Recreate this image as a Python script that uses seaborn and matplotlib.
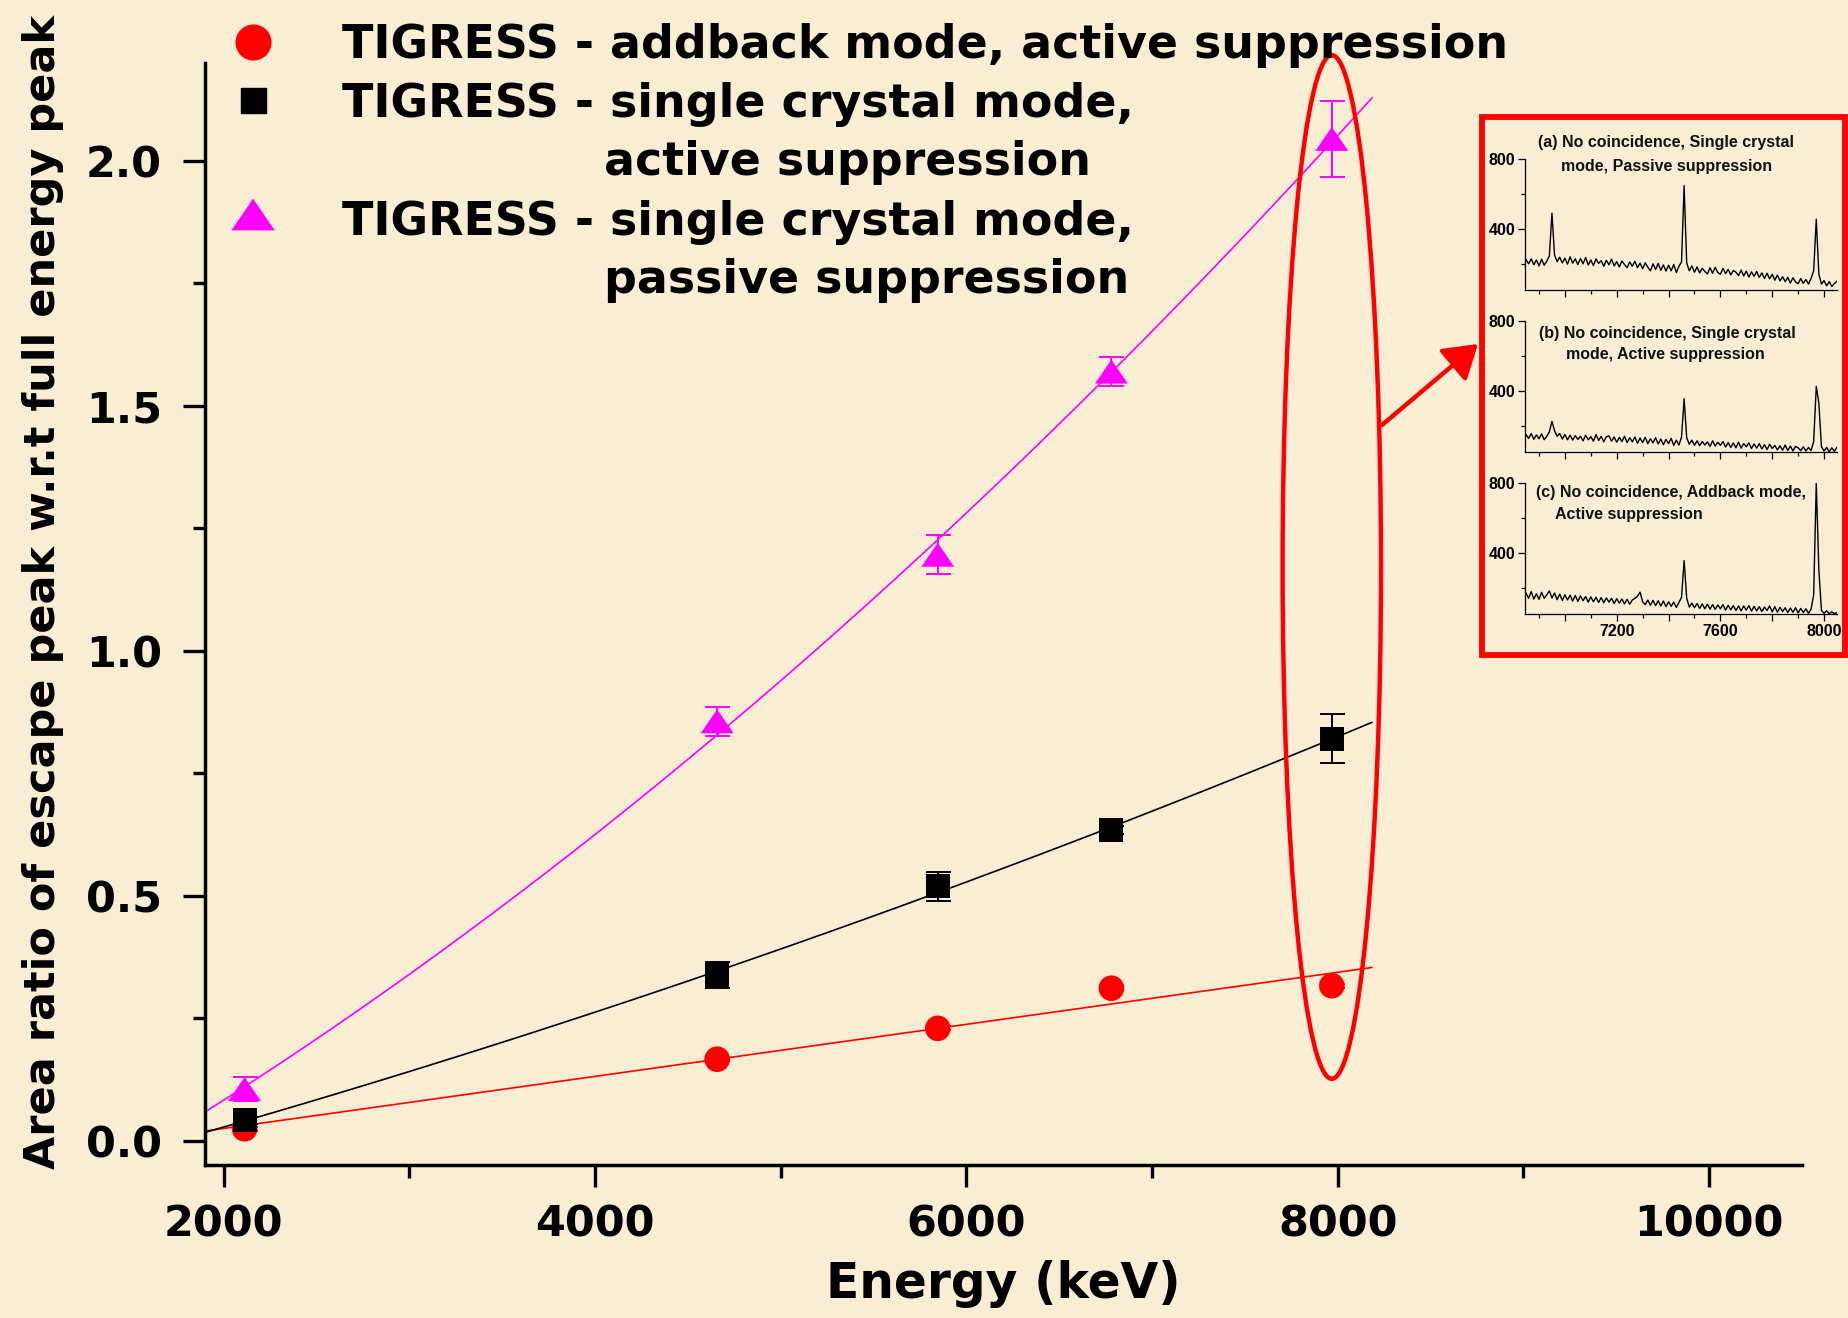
import numpy as np
import pandas as pd
import matplotlib
matplotlib.use("Agg")
import matplotlib.pyplot as plt
import seaborn as sns
from matplotlib.patches import Ellipse, Rectangle
from matplotlib.lines import Line2D
from matplotlib.ticker import FormatStrFormatter

# ---------------- data ----------------
energy_kev = [2113, 4658, 5846, 6781, 7968]

ratio_addback_active = [0.024, 0.166, 0.229, 0.311, 0.316]
err_addback_active = [0.004, 0.004, 0.004, 0.004, 0.004]

ratio_single_active = [0.041, 0.338, 0.519, 0.634, 0.820]
err_single_active = [0.008, 0.027, 0.030, 0.008, 0.050]

ratio_single_passive = [0.105, 0.856, 1.196, 1.570, 2.045]
err_single_passive = [0.025, 0.030, 0.040, 0.030, 0.078]

legend_lines = [
    ("TIGRESS - addback mode, active suppression", None),
    ("TIGRESS - single crystal mode,", "active suppression"),
    ("TIGRESS - single crystal mode,", "passive suppression"),
]

fit_range_kev = (1900, 8185)
x_limits = (1900, 10500)
y_limits = (-0.05, 2.2)

# inset spectra (counts per 10 keV channel, 6850..8050 keV)
spec_energy = np.arange(6850, 8051, 10)
spec_a = [225, 200, 228, 195, 222, 188, 226, 192, 215, 245,
          490,
          250, 212, 238, 205, 232, 198, 240, 204, 228,
          196, 230, 200, 236, 194, 222, 190, 228, 202, 218,
          186, 220, 194, 226, 188, 212, 182, 216, 196, 178,
          210, 186, 214, 178, 204, 172, 206, 180, 160, 200,
          168, 202, 162, 194, 158, 192, 160, 196, 150, 186,
          210, 647, 205,
          160, 188, 152, 182, 148, 174, 156, 142, 178, 146,
          180, 150, 140, 174, 144, 168, 136, 162, 152, 132,
          164, 130, 158, 124, 154, 128, 156, 122, 148, 116,
          146, 114, 140, 106, 136, 102, 126, 98, 122, 90,
          120, 96, 86, 116, 88, 110, 84, 116,
          160, 455, 140,
          84, 104, 74, 98, 70, 88, 100]
spec_b = [150, 128, 156, 122, 148, 126, 154, 120, 140, 165,
          226,
          172, 140, 156, 124, 150, 120, 146, 118, 144,
          122, 140, 114, 146, 120, 138, 112, 150, 116, 140,
          108, 138, 142, 112, 136, 106, 134, 110, 140, 104,
          132, 108, 136, 100, 130, 104, 134, 98, 126, 102,
          132, 96, 124, 92, 122, 98, 128, 88, 118, 90,
          135, 355, 132,
          94, 118, 88, 114, 86, 110, 90, 108, 82, 114,
          84, 106, 88, 110, 78, 104, 76, 102, 74, 106,
          72, 98, 80, 102, 70, 96, 72, 98, 68, 92,
          64, 94, 70, 88, 62, 86, 60, 90, 58, 84,
          56, 82, 74, 58, 80, 56, 76, 58,
          110, 425, 330,
          80, 56, 76, 52, 74, 54, 78]
spec_c = [170, 140, 178, 136, 166, 134, 174, 140, 160, 182,
          142, 170, 132, 164, 128, 160, 130, 158, 124, 156,
          122, 154, 126, 150, 118, 148, 120, 146, 116, 144,
          114, 142, 118, 140, 110, 138, 112, 136, 108, 134,
          106, 130, 140, 152, 175, 120, 104, 130, 100, 128,
          98, 126, 96, 124, 92, 120, 94, 118, 88, 116,
          145, 356, 140,
          90, 112, 86, 110, 82, 108, 80, 106, 78, 104,
          76, 102, 80, 104, 72, 100, 74, 98, 70, 96,
          68, 96, 72, 98, 66, 94, 68, 92, 64, 90,
          70, 96, 62, 92, 60, 88, 64, 86, 58, 84,
          60, 86, 56, 82, 58, 80, 54, 78,
          160, 800, 300,
          70, 54, 68, 52, 62, 52, 58]
inset_titles = [
    ["(a) No coincidence, Single crystal", "mode, Passive suppression"],
    ["(b) No coincidence, Single crystal", "mode, Active suppression"],
    ["(c) No coincidence, Addback mode,", "Active suppression"],
]

# ---------------- style ----------------
sns.set_theme(style="ticks")
plt.rcParams['font.family'] = ['DejaVu Sans']
plt.rcParams['font.weight'] = 'bold'
BG = '#F9EDD3'
W, H = 1849, 1318


def fx(px):
    return px / W


def fy(py):
    return 1 - py / H


fig = plt.figure(figsize=(W / 100, H / 100), dpi=100, facecolor=BG)
ax = fig.add_axes([fx(205), fy(1165), fx(1802) - fx(205), fy(63) - fy(1165)])
ax.set_facecolor(BG)

tri = [(0, 0.73), (-1, -0.73), (1, -0.73)]

series = [
    (ratio_addback_active, err_addback_active, '#FF0000', 'o', 340, 1),
    (ratio_single_active, err_single_active, '#000000', 's', 300, 2),
    (ratio_single_passive, err_single_passive, '#FF00FF', tri, 560, 2),
]

# fit lines over the drawn range
ax.set_xlim(*fit_range_kev)
ax.set_ylim(*y_limits)
for vals, err, col, mk, s, order in series:
    sns.regplot(x=np.array(energy_kev, float), y=np.array(vals), order=order, ci=None,
                scatter=False, truncate=False, color=col,
                line_kws=dict(color=col, lw=1.2, zorder=2), ax=ax)
ax.set_xlim(*x_limits)
ax.set_ylim(*y_limits)

for vals, err, col, mk, s, order in series:
    ax.errorbar(energy_kev, vals, yerr=err, fmt='none', ecolor=col, elinewidth=1.4,
                capsize=9, capthick=1.4, zorder=3)
    sns.scatterplot(x=energy_kev, y=vals, marker=mk, s=s, color=col, edgecolor='none',
                    linewidth=0, ax=ax, zorder=4, legend=False)

ax.set_xlabel('')
ax.set_ylabel('')

# ellipse highlighting ~8 MeV points
ell = Ellipse((7968, 1.171), width=530, height=2.09, fill=False, ec='#FF0000', lw=3.2,
              clip_on=False, zorder=5)
ax.add_patch(ell)

# axes styling
sns.despine(ax=ax)
for sp in ('left', 'bottom'):
    ax.spines[sp].set_linewidth(2.5)
    ax.spines[sp].set_color('black')
ax.set_xticks([2000, 4000, 6000, 8000, 10000])
ax.set_xticks([3000, 5000, 7000, 9000], minor=True)
ax.set_yticks([0.0, 0.5, 1.0, 1.5, 2.0])
ax.set_yticks([0.25, 0.75, 1.25, 1.75], minor=True)
ax.yaxis.set_major_formatter(FormatStrFormatter('%.1f'))
ax.tick_params(which='major', direction='out', length=16, width=2.4, color='black',
               labelsize=31, labelcolor='black')
ax.tick_params(which='minor', direction='out', length=9, width=2.4, color='black')
ax.tick_params(axis='x', which='major', pad=12)
ax.tick_params(axis='y', which='major', pad=15)
for lab in ax.get_xticklabels() + ax.get_yticklabels():
    lab.set_fontweight('bold')

ax.set_xlabel('Energy (keV)', fontsize=35, fontweight='bold', color='black', labelpad=10)
ax.set_ylabel('Area ratio of escape peak w.r.t full energy peak', fontsize=31,
              fontweight='bold', color='black')
ax.yaxis.set_label_coords(-0.088, 0.5204)

# ---------------- legend (manual) ----------------
leg_x_marker = fx(253)
fig.add_artist(Line2D([leg_x_marker], [fy(42)], marker='o', ms=25, color='#FF0000', ls='none',
                      transform=fig.transFigure))
fig.add_artist(Line2D([leg_x_marker], [fy(100)], marker='s', ms=18, color='#000000', ls='none',
                      transform=fig.transFigure))
fig.add_artist(Line2D([leg_x_marker], [fy(214)], marker=tri, ms=30, color='#FF00FF', ls='none',
                      transform=fig.transFigure))
baselines = [(58, None), (117, 175), (235, 293)]
for (line1, line2), (b1, b2) in zip(legend_lines, baselines):
    fig.text(fx(342), fy(b1), line1, fontsize=33, fontweight='bold', color='black',
             va='baseline', ha='left')
    if line2:
        fig.text(fx(604), fy(b2), line2, fontsize=33, fontweight='bold', color='black',
                 va='baseline', ha='left')

# ---------------- arrow ----------------
ax.annotate('', xy=(fx(1478), fy(344)), xycoords='figure fraction',
            xytext=(fx(1382), fy(425)), textcoords='figure fraction',
            arrowprops=dict(arrowstyle='-|>,head_length=0.5,head_width=0.32', mutation_scale=40,
                            color='#FF0000', lw=3.2, shrinkA=0, shrinkB=0))

# ---------------- inset ----------------
fig.add_artist(Rectangle((fx(1482), fy(655)), fx(1845) - fx(1482), fy(117) - fy(655),
                         transform=fig.transFigure, fill=False, ec='#FF0000', lw=4.2))

inset_font = ['Liberation Sans', 'DejaVu Sans']
panel_tops = [159, 321, 483]
panel_h = 131
spectra = [spec_a, spec_b, spec_c]
title_pos = [
    [((1666, 143), 'center'), ((1667, 166), 'center')],
    [((1667, 333), 'center'), ((1665, 355), 'center')],
    [((1671, 492), 'center'), ((1555, 515), 'left')],
]
for i, (top, spec) in enumerate(zip(panel_tops, spectra)):
    axi = fig.add_axes([fx(1525), fy(top + panel_h), fx(1837) - fx(1525), panel_h / H])
    axi.set_facecolor('none')
    sns.lineplot(x=spec_energy, y=spec, color='black', lw=1.0, estimator=None, ax=axi)
    axi.set_xlim(6846, 8050)
    axi.set_ylim(50, 800)
    sns.despine(ax=axi)
    for sp in ('left', 'bottom'):
        axi.spines[sp].set_linewidth(0.9)
        axi.spines[sp].set_color('black')
    axi.set_xticks([7000, 7200, 7400, 7600, 7800, 8000])
    axi.set_xticks([6900, 7100, 7300, 7500, 7700, 7900], minor=True)
    axi.set_yticks([400, 800])
    axi.set_yticks([200, 600], minor=True)
    axi.set_yticklabels(['400', '800'], fontsize=11.5, fontweight='bold', family=inset_font)
    if i == 2:
        axi.set_xticklabels(['', '7200', '', '7600', '', '8000'], fontsize=11.5,
                            fontweight='bold', family=inset_font)
    else:
        axi.set_xticklabels([])
    axi.tick_params(which='major', direction='out', length=5, width=0.9, color='black', pad=2,
                    labelcolor='black')
    axi.tick_params(which='minor', direction='out', length=3, width=0.9, color='black')
    axi.set_xlabel('')
    axi.set_ylabel('')
    for (pos, ha), txt in zip(title_pos[i], inset_titles[i]):
        fig.text(fx(pos[0]), fy(pos[1]), txt, fontsize=11.5, fontweight='bold',
                 family=inset_font, color='#111111', ha=ha, va='center')

fig.savefig('out.png', dpi=100, facecolor=BG)
